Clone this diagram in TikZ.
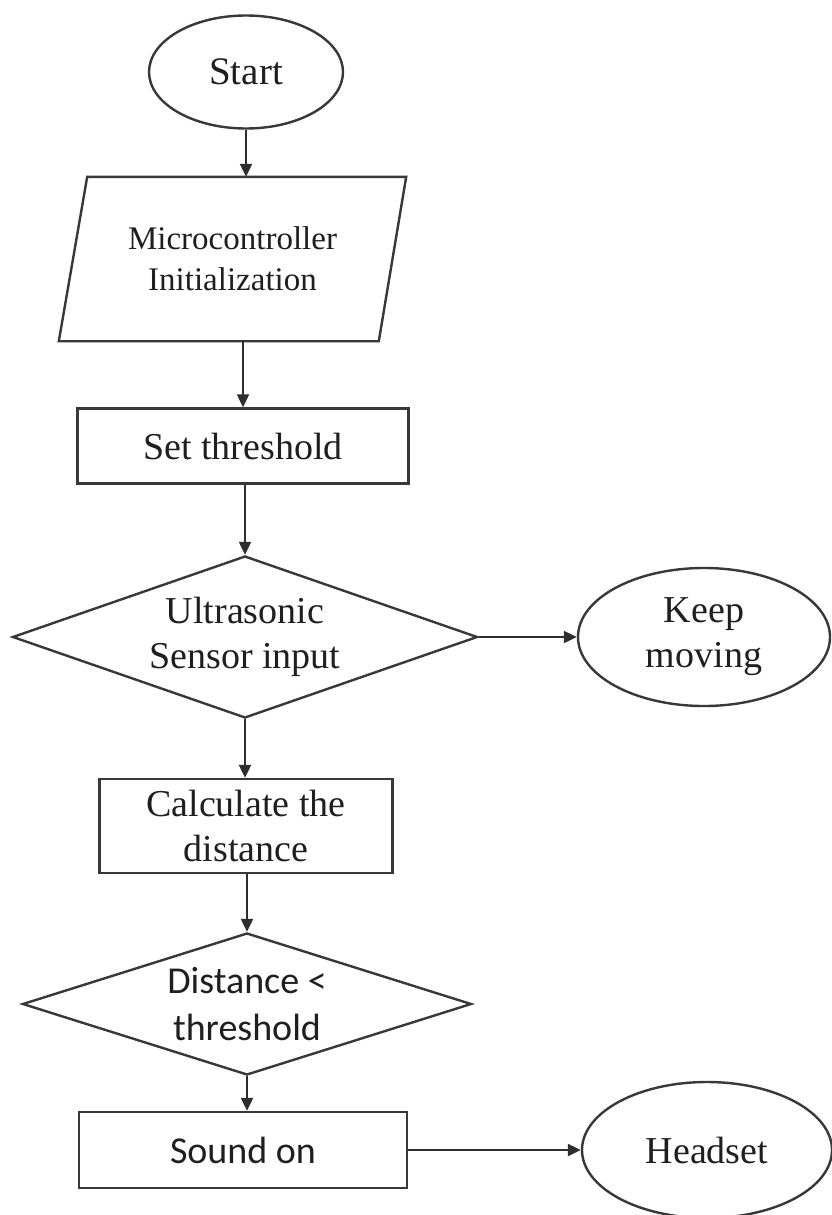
\documentclass[tikz,border=0pt]{standalone}
\usepackage{fontspec}
\setmainfont{Liberation Serif}
\newfontfamily\calib{Carlito}
\usetikzlibrary{shapes.geometric,arrows.meta,calc}
\begin{document}
\begin{tikzpicture}[x=1pt,y=-1pt,
  line/.style={draw=black!78, line width=2.4pt},
  arr/.style={draw=black!82, line width=2.2pt, -{Triangle[length=13pt,width=12pt]}},
  txt/.style={text=black!88, align=center, inner sep=0pt, font=\fontsize{38}{45}\selectfont},
  term/.style={line, txt, ellipse},
  proc/.style={line, txt, rectangle},
  dec/.style={line, txt, diamond}]
\useasboundingbox (0,0) rectangle (832,1215);
\fill[white] (0,0) rectangle (832,1215);

\node[term, minimum width=194pt, minimum height=113pt, font=\fontsize{39}{45}\selectfont] (start) at (246,72) {Start};

\node[txt, minimum width=347pt, minimum height=164pt, font=\fontsize{33}{41}\selectfont] (init) at (232.5,259) {Microcontroller\\Initialization};
\draw[line] (init.south west) -- ++(320,0) -- (init.north east) -- ++(-319,0) -- cycle;

\node[proc, minimum width=331pt, minimum height=75pt] (set) at (243,446) {Set threshold};

\node[dec, shape aspect=2.87, minimum width=465pt, minimum height=162pt] (d1) at (245,637) {Ultrasonic\\Sensor input};

\node[term, minimum width=252pt, minimum height=138pt] (keep) at (704,637) {Keep\\moving};

\node[proc, minimum width=293pt, minimum height=94pt] (calc) at (246,826) {Calculate the\\distance};

\node[dec, shape aspect=3.16, minimum width=449pt, minimum height=142pt, font=\calib\fontsize{38}{47}\selectfont] (d2) at (247,1004) {Distance <\\threshold};

\node[proc, minimum width=328pt, minimum height=76pt, font=\calib\fontsize{38}{45}\selectfont] (sound) at (243,1150) {Sound on};

\node[term, minimum width=250pt, minimum height=136pt] (head) at (707,1150) {Headset};

\draw[arr] (start.south) -- (start.south |- init.north);
\draw[arr] (set.north |- init.south) -- (set.north);
\draw[arr] (d1.north |- set.south) -- (d1.north);
\draw[arr] (d1.east) -- (keep.west);
\draw[arr] (d1.south) -- (d1.south |- calc.north);
\draw[arr] (d2.north |- calc.south) -- (d2.north);
\draw[arr] (d2.south) -- (d2.south |- sound.north);
\draw[arr] (sound.east) -- (head.west);
\end{tikzpicture}
\end{document}
